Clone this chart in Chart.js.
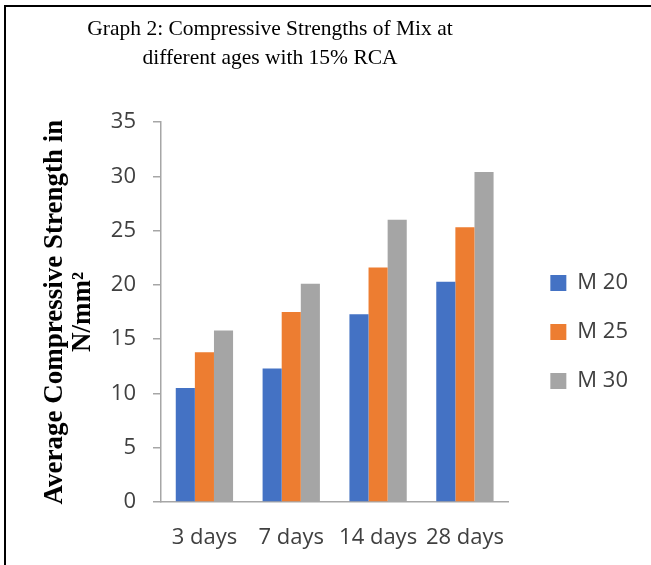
<!DOCTYPE html>
<html>
<head>
<meta charset="utf-8">
<script src="https://cdn.jsdelivr.net/npm/chart.js@4"></script>
<style>
  html, body { margin: 0; padding: 0; background: #fff; }
  #wrap { position: relative; width: 651px; height: 565px; }
  #frame { position: absolute; left: 4px; top: 5px; right: 0; bottom: 0; border-top: 2px solid #000; border-left: 2px solid #000; pointer-events: none; }
  canvas { position: absolute; left: 0; top: 0; }
</style>
</head>
<body>
<div id="wrap">
  <canvas id="c" width="651" height="565"></canvas>
  <div id="frame"></div>
</div>
<script>
const categories = ['3 days', '7 days', '14 days', '28 days'];
const seriesNames = ['M 20', 'M 25', 'M 30'];
const m20 = [10.5, 12.3, 17.3, 20.3];
const m25 = [13.8, 17.5, 21.6, 25.3];
const m30 = [15.8, 20.1, 26.0, 30.4];
const yTicks = [0, 5, 10, 15, 20, 25, 30, 35];
const titleLines = ['Graph 2: Compressive Strengths of Mix at', 'different ages with 15% RCA'];
const yTitleLines = ['Average Compressive Strength in', 'N/mm\u00B2'];

const colors = ['#4472C4', '#ED7D31', '#A5A5A5'];
const sans = "'Open Sans', 'DejaVu Sans', sans-serif";
const serif = "'Liberation Serif', 'Times New Roman', serif";

const layoutTweak = {
  id: 'layoutTweak',
  afterLayout(chart) {
    const t = chart.titleBlock;
    if (t) { t.left = 0; t.right = 540; t.width = 540; }
    const lg = chart.legend;
    const ca = chart.chartArea;
    if (lg && ca) {
      lg.left += 15; lg.right += 15;
      lg.top = ca.top + 20; lg.bottom = ca.bottom + 20; lg.height = lg.bottom - lg.top;
    }
  }
};

new Chart(document.getElementById('c'), {
  type: 'bar',
  data: {
    labels: categories,
    datasets: [
      { label: seriesNames[0], data: m20, backgroundColor: colors[0] },
      { label: seriesNames[1], data: m25, backgroundColor: colors[1] },
      { label: seriesNames[2], data: m30, backgroundColor: colors[2] }
    ]
  },
  options: {
    responsive: false,
    animation: false,
    datasets: { bar: { categoryPercentage: 0.66, barPercentage: 1.0 } },
    layout: { padding: { left: 10, right: 28, top: 0, bottom: 0 } },
    plugins: {
      tooltip: { enabled: false },
      title: {
        display: true,
        text: titleLines,
        color: '#000',
        font: { family: serif, size: 21.5, weight: 'normal', lineHeight: 1.35 },
        padding: { top: 15, bottom: 49 }
      },
      legend: {
        display: true,
        position: 'right',
        align: 'center',
        labels: {
          boxWidth: 16, boxHeight: 16, padding: 27,
          color: '#404040',
          font: { family: sans, size: 22 }
        }
      }
    },
    scales: {
      x: {
        afterFit: (scale) => { scale.height = 63; },
        grid: { display: false, drawTicks: false },
        border: { display: true, color: '#a6a6a6', width: 1.5 },
        ticks: { color: '#404040', padding: 23, font: { family: sans, size: 22 }, maxRotation: 0 }
      },
      y: {
        min: 0, max: 35,
        afterBuildTicks: (scale) => { scale.ticks = yTicks.map(v => ({ value: v })); },
        afterFit: (scale) => { scale.width = 151; },
        grid: { display: true, drawOnChartArea: false, drawTicks: true, tickLength: 8, color: '#a6a6a6', lineWidth: 1.5 },
        border: { display: true, color: '#a6a6a6', width: 1.5 },
        ticks: { color: '#404040', padding: 17, font: { family: sans, size: 22 } },
        title: {
          display: true,
          text: yTitleLines,
          color: '#000',
          font: { family: serif, size: 27, weight: 'bold', lineHeight: 1.05 },
          padding: { top: 31, bottom: 0 }
        }
      }
    }
  },
  plugins: [layoutTweak]
});
</script>
</body>
</html>
